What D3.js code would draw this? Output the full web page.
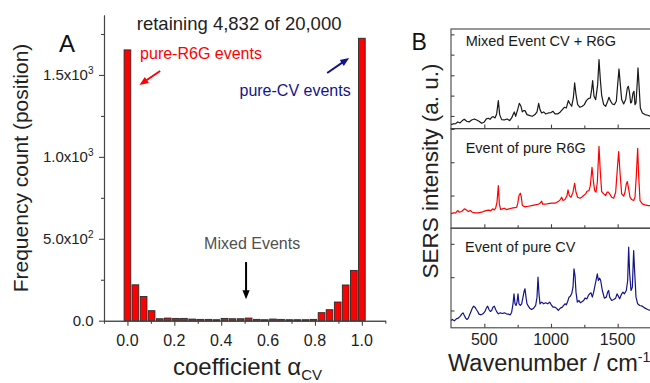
<!DOCTYPE html>
<html><head><meta charset="utf-8">
<script src="https://cdn.jsdelivr.net/npm/d3@7"></script>
<style>
body{margin:0;background:#fff}
svg{display:block;font-family:"Liberation Sans",Arial,Helvetica,sans-serif}
</style>
</head><body>
<svg id="chart" width="650" height="383"></svg>
<script>
// ---------------- Panel A data ----------------
const binCenters = [0.000,0.034,0.069,0.103,0.138,0.172,0.207,0.241,0.276,0.310,0.345,0.379,0.414,0.448,0.483,0.517,0.552,0.586,0.621,0.655,0.690,0.724,0.759,0.793,0.828,0.862,0.897,0.931,0.966,1.000];
const binCounts  = [1653,219,148,61,12,16,14,14,10,8,8,6,14,12,12,16,8,6,10,8,6,6,6,8,49,67,114,218,307,1724];
const countMajorTicks = [0, 500, 1000, 1500];
const countMinorTicks = [250, 750, 1250, 1750];
const countTickMantissa = ["0.0", "5.0x10", "1.0x10", "1.5x10"];
const countTickExponent = ["", "2", "3", "3"];
const alphaMajorTicks = [0, 0.2, 0.4, 0.6, 0.8, 1.0];
const alphaMinorTicks = [-0.1, 0.1, 0.3, 0.5, 0.7, 0.9, 1.1];
const alphaTickLabels = ["0.0", "0.2", "0.4", "0.6", "0.8", "1.0"];

// annotations of panel A (data coordinates)
const annotTexts = ["pure-R6G events", "pure-CV events", "Mixed Events"];
const annotX = [0.054, 0.478, 0.327];
const annotY = [1596, 1374, 436];
const annotColors = ["#ff0000", "#14148a", "#505050"];
const arrowFrom = [[0.1395, 1524], [0.852, 1512], [0.506, 358]];
const arrowTo   = [[0.051, 1439], [0.946, 1604], [0.506, 131]];
const arrowColors = ["#ff0000", "#14148a", "#000000"];

// ---------------- Panel B data ----------------
const wnMajorTicks = [500, 1000, 1500];
const wnMinorTicks = [750, 1250, 1750];
const spectrumNames = ["Mixed Event CV + R6G", "Event of pure R6G", "Event of pure CV"];
const spectrumColors = ["#1a1a1a", "#ff0000", "#14148a"];
const spectrumTicks = [[38, 99, 160, 222, 283], [98, 198, 298], [52, 152, 252]];
const spectrumLabelPos = [[360, 247], [360, 226], [355, 229]];

const spectrumMixed = [[250,12],[267.5,14],[285,15],[300,20],[317.5,17],[335,24],[350,28],[367.5,22],[385,20],[405,26],[425,29],[442.5,26],[460,22],[480,16],[500,20],[515,29],[530,31],[542.5,28],[555,34],[567.5,36],[580,32],[592.5,44],[605,84],[615,42],[630,27],[650,26],[670,29],[690,24],[705,32],[717.5,44],[725,50],[735,37],[750,57],[762.5,76],[775,67],[785,50],[795,54],[805,54],[820,42],[842.5,39],[860,37],[880,42],[895,50],[907.5,76],[917.5,57],[930,47],[945,50],[960,44],[980,47],[1000,48],[1015,52],[1030,44],[1050,44],[1070,50],[1085,57],[1100,64],[1115,62],[1130,84],[1140,76],[1155,67],[1167.5,92],[1177.5,137],[1187.5,102],[1200,72],[1217.5,64],[1235,67],[1250,72],[1265,84],[1280,90],[1295,92],[1305,117],[1312.5,144],[1322.5,97],[1335,87],[1350,132],[1360,207],[1370,147],[1380,100],[1395,72],[1410,67],[1425,82],[1435,94],[1445,84],[1460,74],[1475,72],[1490,82],[1500,132],[1510,179],[1520,132],[1530,87],[1545,74],[1560,87],[1572.5,122],[1580,127],[1587.5,112],[1597.5,77],[1605,80],[1615,107],[1622.5,112],[1630,72],[1637.5,77],[1647.5,142],[1652.5,182],[1660,132],[1670,62],[1685,47],[1705,42],[1725,40],[1742.5,37]];

const spectrumR6G = [[250,43],[267.5,46],[285,46],[300,53],[312.5,48],[330,50],[350,58],[365,55],[380,50],[395,53],[410,48],[430,46],[455,46],[480,48],[505,52],[530,54],[550,53],[562.5,58],[575,55],[585,60],[595,78],[605,128],[612.5,73],[622.5,56],[635,58],[650,60],[665,56],[685,58],[705,60],[730,62],[742.5,63],[750,73],[760,98],[770,105],[777.5,93],[785,68],[805,64],[830,66],[855,68],[880,70],[905,72],[920,76],[930,81],[937.5,72],[955,72],[980,74],[1005,75],[1030,75],[1055,80],[1070,86],[1080,93],[1090,83],[1105,86],[1120,98],[1127.5,115],[1137.5,98],[1150,93],[1165,108],[1177.5,135],[1187.5,108],[1200,93],[1217.5,90],[1230,93],[1245,98],[1260,103],[1270,111],[1285,113],[1295,128],[1307.5,183],[1317.5,143],[1327.5,113],[1337.5,108],[1347.5,138],[1360,246],[1370,168],[1380,110],[1395,103],[1410,98],[1420,108],[1430,108],[1440,103],[1455,93],[1470,90],[1485,108],[1497.5,178],[1507.5,230],[1517.5,168],[1530,103],[1545,96],[1555,108],[1565,133],[1572.5,140],[1580,123],[1592.5,93],[1605,86],[1620,83],[1630,93],[1640,158],[1650,240],[1657.5,158],[1667.5,83],[1685,73],[1705,70],[1730,68],[1742.5,68]];

const spectrumCV = [[250,22],[260,25],[275,21],[290,27],[305,29],[320,35],[330,41],[340,45],[350,37],[360,29],[370,25],[380,29],[390,39],[400,49],[410,59],[420,65],[430,62],[440,55],[450,49],[460,41],[475,39],[490,42],[505,49],[515,59],[525,65],[535,55],[545,49],[555,52],[565,62],[575,65],[585,55],[595,47],[605,42],[620,45],[635,43],[650,45],[665,42],[680,41],[695,39],[705,47],[715,72],[722.5,102],[730,72],[737.5,67],[745,77],[752.5,102],[760,72],[770,67],[780,72],[790,92],[800,112],[805,117],[812.5,92],[820,72],[830,65],[840,59],[855,55],[870,59],[885,67],[895,92],[902.5,152],[910,102],[917.5,72],[930,77],[945,72],[960,75],[975,72],[990,77],[1005,67],[1015,62],[1030,62],[1045,57],[1055,52],[1070,59],[1085,62],[1095,67],[1105,72],[1115,69],[1125,79],[1135,92],[1145,95],[1155,102],[1165,122],[1172.5,177],[1180,157],[1187.5,107],[1197.5,77],[1210,82],[1220,75],[1235,79],[1245,82],[1255,89],[1270,87],[1280,97],[1290,102],[1300,105],[1310,92],[1320,107],[1330,127],[1340,147],[1347.5,162],[1355,142],[1365,149],[1372.5,142],[1385,112],[1400,89],[1415,92],[1425,107],[1432.5,112],[1440,92],[1455,82],[1470,85],[1485,89],[1495,102],[1505,95],[1515,87],[1530,102],[1540,107],[1550,102],[1565,112],[1575,142],[1582.5,242],[1590,162],[1600,112],[1610,122],[1620,232],[1627.5,167],[1637.5,92],[1650,72],[1665,67],[1685,65],[1705,59],[1725,55],[1742.5,52]];

const spectra = [spectrumMixed, spectrumR6G, spectrumCV];

// ---------------- Drawing ----------------
const svg = d3.select("#chart");
svg.append("rect").attr("width", 650).attr("height", 383).attr("fill", "#fff");
const axisColor = "#444";

// ---- Panel A ----
const xA = d3.scaleLinear().domain([-0.1, 1.1]).range([104, 385.3]);
const yA = d3.scaleLinear().domain([0, 1866]).range([320.7, 15]);
const barW = 0.0285;

const gA = svg.append("g");
gA.selectAll("rect.bar")
  .data(binCenters.map((c, i) => ({c, n: binCounts[i]})))
  .join("rect").attr("class", "bar")
  .attr("x", d => xA(d.c - barW / 2))
  .attr("width", xA(barW) - xA(0))
  .attr("y", d => yA(d.n))
  .attr("height", d => yA(0) - yA(d.n))
  .attr("fill", "#ff0000").attr("stroke", "#2a2a2a").attr("stroke-width", 0.9);

function styleAxis(g) {
  g.selectAll("path,line").attr("stroke", axisColor).attr("stroke-width", 1.1);
  g.selectAll("text").remove();
}
// y axis A
gA.append("g").attr("transform", `translate(${xA(-0.1)},0)`)
  .call(d3.axisLeft(yA).tickValues(countMajorTicks).tickSize(5).tickSizeOuter(0)).call(styleAxis);
gA.append("g").attr("transform", `translate(${xA(-0.1)},0)`)
  .call(d3.axisLeft(yA).tickValues(countMinorTicks).tickSize(3).tickSizeOuter(0)).call(styleAxis);
// x axis A
gA.append("g").attr("transform", `translate(0,${yA(0)})`)
  .call(d3.axisBottom(xA).tickValues(alphaMajorTicks).tickSize(5).tickSizeOuter(0)).call(styleAxis);
gA.append("g").attr("transform", `translate(0,${yA(0)})`)
  .call(d3.axisBottom(xA).tickValues(alphaMinorTicks).tickSize(3).tickSizeOuter(0)).call(styleAxis);

// y tick labels
countMajorTicks.forEach((v, i) => {
  const t = gA.append("text").attr("x", 93.5).attr("y", yA(v)).attr("dy", "0.36em")
    .attr("text-anchor", "end").attr("font-size", 15).attr("fill", "#222");
  t.append("tspan").text(countTickMantissa[i]);
  if (countTickExponent[i]) t.append("tspan").attr("font-size", 10).attr("dy", -6).text(countTickExponent[i]);
});
// x tick labels
alphaMajorTicks.forEach((v, i) => {
  gA.append("text").attr("x", xA(v)).attr("y", 346).attr("text-anchor", "middle")
    .attr("font-size", 16).attr("fill", "#222").text(alphaTickLabels[i]);
});
// axis titles A
gA.append("text").attr("transform", "translate(28.3,168) rotate(-90)").attr("text-anchor", "middle")
  .attr("font-size", 21).attr("fill", "#222").text("Frequency count (position)");
const xt = gA.append("text").attr("x", 173).attr("y", 375).attr("font-size", 24).attr("fill", "#222");
xt.append("tspan").text("coefficient α");
xt.append("tspan").attr("font-size", 15).attr("dy", 5).text("CV");

gA.append("text").attr("x", 59).attr("y", 51.7).attr("font-size", 24).attr("fill", "#111").text("A");
gA.append("text").attr("x", xA(0.4765)).attr("y", yA(1775)).attr("text-anchor", "middle")
  .attr("font-size", 18.5).attr("fill", "#222").text("retaining 4,832 of 20,000");

annotTexts.forEach((s, i) => {
  gA.append("text").attr("x", xA(annotX[i])).attr("y", yA(annotY[i]))
    .attr("font-size", 16).attr("fill", annotColors[i]).text(s);
});

function drawArrow(g, x1, y1, x2, y2, color) {
  const dx = x2 - x1, dy = y2 - y1, L = Math.hypot(dx, dy);
  const ux = dx / L, uy = dy / L, hl = 9, hw = 3.6;
  const bx = x2 - ux * hl, by = y2 - uy * hl;
  g.append("line").attr("x1", x1).attr("y1", y1).attr("x2", bx + ux).attr("y2", by + uy)
    .attr("stroke", color).attr("stroke-width", 2);
  g.append("path").attr("d", `M${x2},${y2}L${bx - uy * hw},${by + ux * hw}L${bx + uy * hw},${by - ux * hw}Z`)
    .attr("fill", color);
}
arrowFrom.forEach((f, i) => {
  drawArrow(gA, xA(f[0]), yA(f[1]), xA(arrowTo[i][0]), yA(arrowTo[i][1]), arrowColors[i]);
});

// ---- Panel B ----
const xB = d3.scaleLinear().domain([250, 1750]).range([451, 651]);
const panelTop = 29, panelH = 99.6;
const gB = svg.append("g");

spectra.forEach((data, i) => {
  const top = panelTop + i * panelH, bottom = top + panelH;
  const yB = d3.scaleLinear().domain([0, 299]).range([bottom, top]);
  gB.append("g").attr("transform", `translate(${xB(250)},0)`)
    .call(d3.axisRight(yB).tickValues(spectrumTicks[i]).tickSize(3.5).tickSizeOuter(0)).call(styleAxis)
    .select(".domain").remove();
  gB.append("g").attr("transform", `translate(0,${bottom})`)
    .call(d3.axisTop(xB).tickValues(wnMajorTicks).tickSize(4).tickSizeOuter(0)).call(styleAxis)
    .select(".domain").remove();
  gB.append("g").attr("transform", `translate(0,${bottom})`)
    .call(d3.axisTop(xB).tickValues(wnMinorTicks).tickSize(3).tickSizeOuter(0)).call(styleAxis)
    .select(".domain").remove();
  gB.append("path").datum(data)
    .attr("d", d3.line().x(d => xB(d[0])).y(d => yB(d[1])))
    .attr("fill", "none").attr("stroke", spectrumColors[i]).attr("stroke-width", 1.2)
    .attr("stroke-linejoin", "round");
  gB.append("rect").attr("x", xB(250)).attr("y", top).attr("width", xB(1750) - xB(250)).attr("height", panelH)
    .attr("fill", "none").attr("stroke", axisColor).attr("stroke-width", 1.1);
  gB.append("text").attr("x", xB(spectrumLabelPos[i][0])).attr("y", yB(spectrumLabelPos[i][1]))
    .attr("font-size", 14.5).attr("fill", "#1a1a1a").text(spectrumNames[i]);
});

wnMajorTicks.forEach(v => {
  gB.append("text").attr("x", xB(v)).attr("y", 345).attr("text-anchor", "middle")
    .attr("font-size", 16).attr("fill", "#222").text(v);
});
const wt = gB.append("text").attr("x", 448).attr("y", 371).attr("font-size", 23.5).attr("fill", "#222");
wt.append("tspan").text("Wavenumber / cm");
wt.append("tspan").attr("font-size", 14).attr("dy", -9).text("-1");
gB.append("text").attr("transform", "translate(438,171) rotate(-90)").attr("text-anchor", "middle")
  .attr("font-size", 22.5).attr("fill", "#222").text("SERS intensity (a. u.)");
gB.append("text").attr("x", 411.5).attr("y", 50).attr("font-size", 23).attr("fill", "#111").text("B");
</script>
</body></html>
